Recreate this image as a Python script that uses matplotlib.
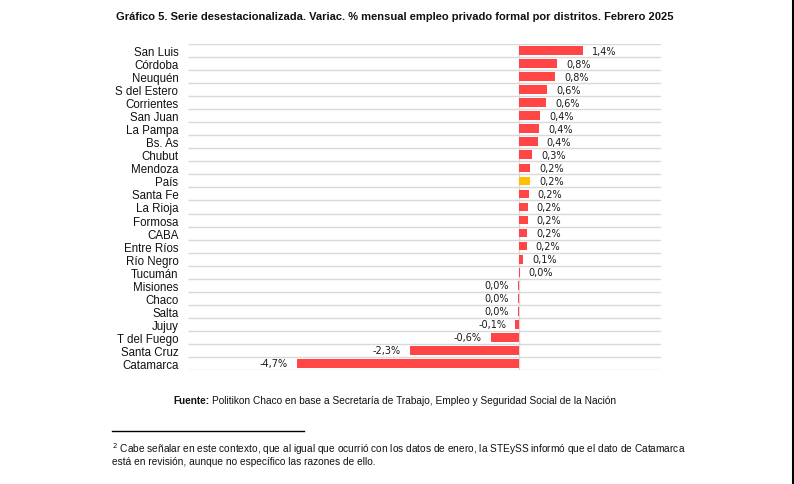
import numpy as np
import matplotlib
matplotlib.use('Agg')
import matplotlib.pyplot as plt

## datos (variacion % mensual)
distritos = ['San Luis','Córdoba','Neuquén','S del Estero','Corrientes','San Juan','La Pampa',
             'Bs. As','Chubut','Mendoza','País','Santa Fe','La Rioja','Formosa','CABA',
             'Entre Ríos','Río Negro','Tucumán','Misiones','Chaco','Salta','Jujuy',
             'T del Fuego','Santa Cruz','Catamarca']
valores = [1.35,0.80,0.76,0.60,0.57,0.45,0.43,0.39,0.27,0.23,0.23,0.20,0.18,0.18,0.17,
           0.16,0.08,0.01,-0.02,-0.02,-0.02,-0.08,-0.60,-2.31,-4.70]
etiquetas = ['1,4%','0,8%','0,8%','0,6%','0,6%','0,4%','0,4%','0,4%','0,3%','0,2%','0,2%',
             '0,2%','0,2%','0,2%','0,2%','0,2%','0,1%','0,0%','0,0%','0,0%','0,0%','-0,1%',
             '-0,6%','-2,3%','-4,7%']

W,H=794,485
fig=plt.figure(figsize=(W/100,H/100),dpi=100)
fam='Liberation Sans'
tc='#111111'

## ejes en pixeles
x0,x1,y0,y1=188,661,45,371
ax=fig.add_axes([x0/W,1-y1/H,(x1-x0)/W,(y1-y0)/H])

n=len(distritos)
y=np.arange(n)
colores=['#FFC000' if d=='País' else '#FF4545' for d in distritos]
ax.barh(y,valores,height=0.67,color=colores,zorder=3)

ax.set_xlim(-7,3)
ax.set_ylim(n-0.5,-0.5)
ax.hlines(np.arange(n+1)-0.5,-7,3,color='#d9d9d9',lw=1.0,zorder=1)
ax.axvline(0,color='#d9d9d9',lw=1.0,zorder=2)

for ii in range(n):
    v=valores[ii]
    if v>=0 and distritos[ii] not in ('Misiones','Chaco','Salta'):
        ax.annotate(etiquetas[ii],(v,ii),xytext=(6.5,0),textcoords='offset points',
                    ha='left',va='center',fontsize=7.0,color='#1a1a1a',family='DejaVu Sans')
    else:
        ax.annotate(etiquetas[ii],(min(v,0),ii),xytext=(-6.5,0),textcoords='offset points',
                    ha='right',va='center',fontsize=7.0,color='#1a1a1a',family='DejaVu Sans')

ax.set_yticks(y)
ax.set_yticklabels(distritos,fontsize=8.3,family=fam,color=tc)
ax.tick_params(axis='y',length=0,pad=7)
ax.set_xticks([])
for s in ax.spines.values():
    s.set_visible(False)

## textos de la figura, ajustados al ancho del original
fig.canvas.draw()
r=fig.canvas.get_renderer()
def ajustar(t,ancho):
    w=t.get_window_extent(r).width
    t.set_fontsize(t.get_fontsize()*ancho/w)

t=fig.text(395/W,1-17/H,'Gráfico 5. Serie desestacionalizada. Variac. % mensual empleo privado formal por distritos. Febrero 2025',
           ha='center',va='center',fontsize=8.6,fontweight='bold',family=fam,color=tc)
ajustar(t,550)

tb=fig.text(173/W,1-401/H,'Fuente:',ha='left',va='center',fontsize=7.6,fontweight='bold',family=fam,color=tc)
ajustar(tb,36)
wb=tb.get_window_extent(r).width
tr=fig.text((173+wb+3)/W,1-401/H,'Politikon Chaco en base a Secretaría de Trabajo, Empleo y Seguridad Social de la Nación',
            ha='left',va='center',fontsize=7.6,family=fam,color=tc)
ajustar(tr,618-(173+wb+3))

fig.add_artist(plt.Line2D([112/W,304/W],[1-432/H,1-432/H],color='black',lw=1.0))
t1=fig.text(112/W,1-449/H,r'$^{2}$ Cabe señalar en este contexto, que al igual que ocurrió con los datos de enero, la STEySS informó que el dato de Catamarca',
            ha='left',va='center',fontsize=7.6,family=fam,color=tc)
ajustar(t1,680-112)
t2=fig.text(112/W,1-462/H,'está en revisión, aunque no específico las razones de ello.',
            ha='left',va='center',fontsize=t1.get_fontsize(),family=fam,color=tc)

## borde de pagina a la derecha
fig.add_artist(plt.Line2D([792.5/W,792.5/W],[0,1],color='black',lw=1.5))

plt.savefig('out.png',dpi=100)
